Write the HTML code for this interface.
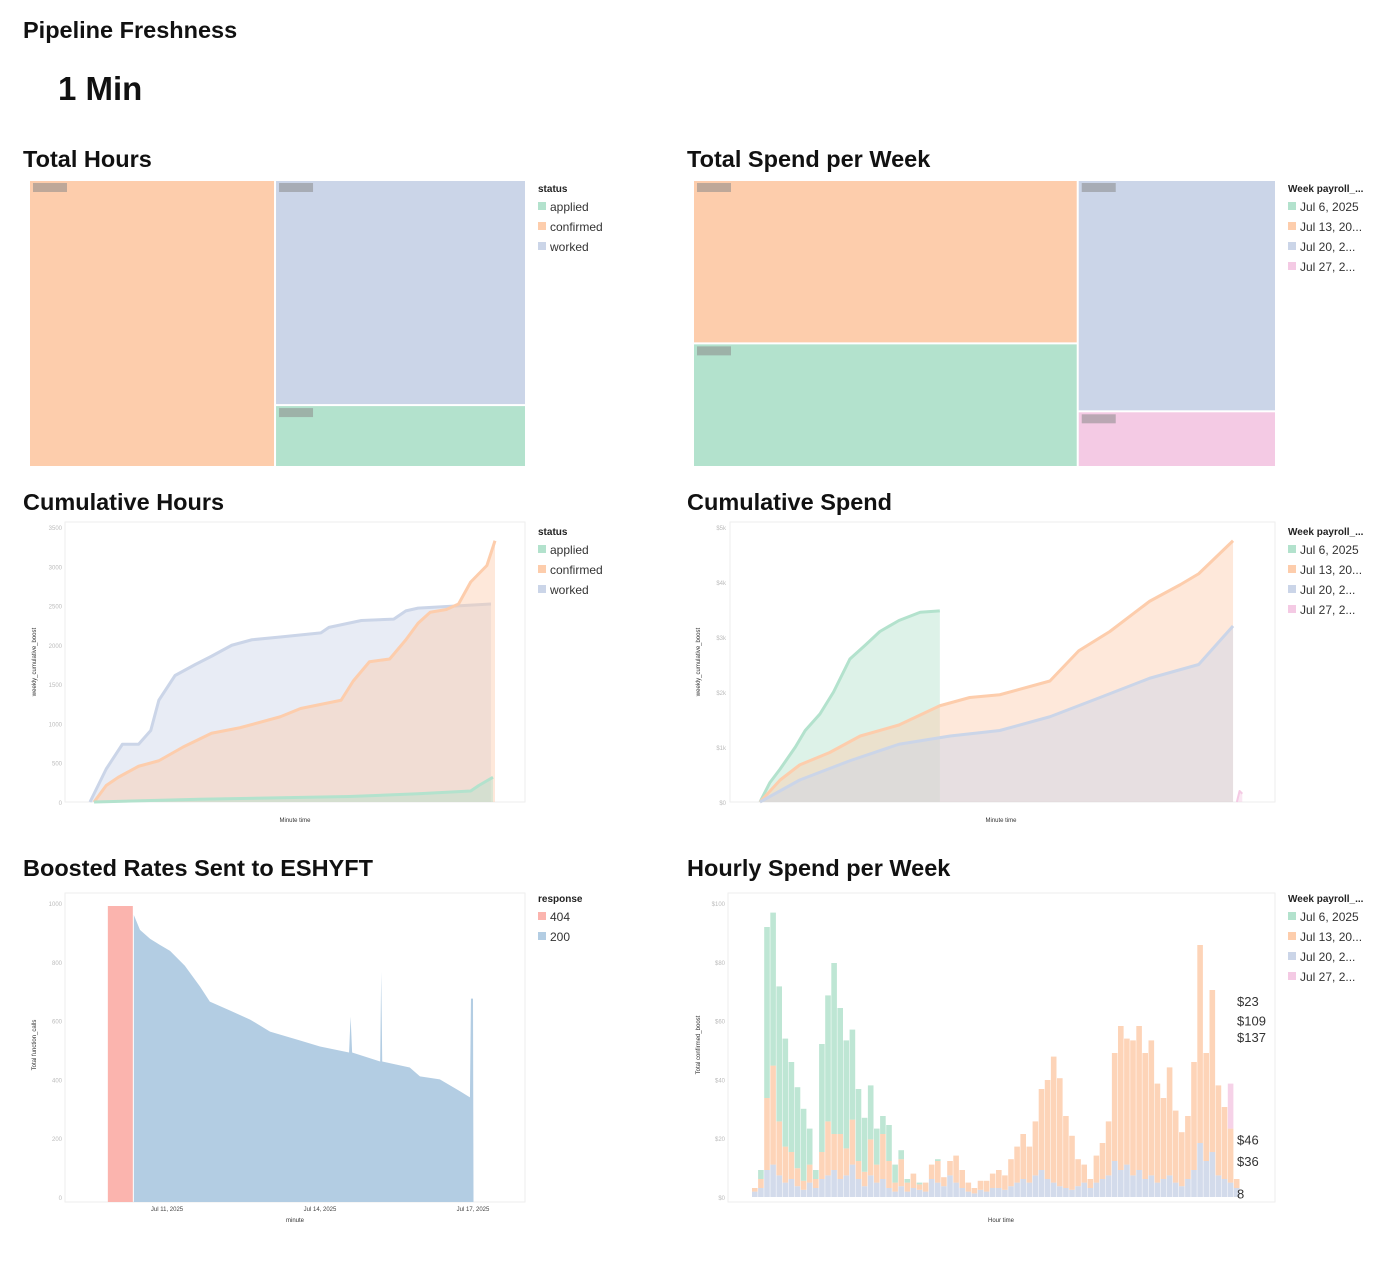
<!DOCTYPE html>
<html><head><meta charset="utf-8"><style>
html,body{margin:0;padding:0;background:#fff;width:1386px;height:1264px;overflow:hidden}
svg text{font-family:"Liberation Sans",sans-serif}
</style></head><body>
<svg id="root" width="1386" height="1264" xmlns="http://www.w3.org/2000/svg">
<text x="23" y="38" font-size="23.5" font-weight="600" fill="#111">Pipeline Freshness</text>
<text x="58" y="100" font-size="33" font-weight="700" fill="#111">1 Min</text>
<text x="23" y="167" font-size="23.5" font-weight="600" fill="#111">Total Hours</text>
<text x="687" y="167" font-size="23.5" font-weight="600" fill="#111">Total Spend per Week</text>
<text x="23" y="510" font-size="23.5" font-weight="600" fill="#111">Cumulative Hours</text>
<text x="687" y="510" font-size="23.5" font-weight="600" fill="#111">Cumulative Spend</text>
<text x="23" y="876" font-size="23.5" font-weight="600" fill="#111">Boosted Rates Sent to ESHYFT</text>
<text x="687" y="876" font-size="23.5" font-weight="600" fill="#111">Hourly Spend per Week</text>
<g id="g"></g>
</svg>
<script>
const NS="http://www.w3.org/2000/svg";
const G=document.getElementById('g');
function mk(tag,at,parent){const e=document.createElementNS(NS,tag);for(const k in at)e.setAttribute(k,at[k]);(parent||G).appendChild(e);return e;}
const C={green:'#b3e2cd',orange:'#fdcdac',blue:'#cbd5e8',pink:'#f4cae4',red:'#fbb4ae',lblue:'#b3cde3'};

// ---- Treemap data
const hoursCats=['confirmed','worked','applied'];
const hoursVals=[50,40,11];
const spendCats=['Jul 13, 2025','Jul 6, 2025','Jul 20, 2025','Jul 27, 2025'];
const spendVals=[37,28,27,6.5];

function treemap(x,y,w,h,vals,cols,names){
  const tot=vals.reduce((a,b)=>a+b,0);
  let groups=names.length===3?[[0],[1,2]]:[[0,1],[2,3]];
  let cx=x;
  groups.forEach((grp)=>{
    const s=grp.reduce((a,i)=>a+vals[i],0);
    const gw=w*s/tot;
    let cy=y;
    grp.forEach(i=>{
      const hh=h*vals[i]/s;
      const r=mk('rect',{x:cx,y:cy,width:gw-2,height:hh-2,fill:cols[i]});
      
      
      const t=mk('rect',{x:cx+3,y:cy+2,width:34,height:9,fill:'#8a8a8a',opacity:0.55});
      
      
      cy+=hh;
    });
    cx+=gw;
  });
}
treemap(30,181,497,287,hoursVals,[C.orange,C.blue,C.green],hoursCats);
treemap(694,181,583,287,spendVals,[C.orange,C.green,C.blue,C.pink],spendCats);

function legend(x,y,title,items,cols){
  const t=mk('text',{x:x,y:y,'font-size':10,'font-weight':600,fill:'#222'});t.textContent=title;
  
  
  items.forEach((it,i)=>{
    const r=mk('rect',{x:x,y:y+10+i*20,width:8,height:8,fill:cols[i]});
    
    
    const tx=mk('text',{x:x+12,y:y+19+i*20,'font-size':12,fill:'#333'});tx.textContent=it;
    
    
  });
}
const statusItems=['applied','confirmed','worked'];
const weekItems=['Jul 6, 2025','Jul 13, 20...','Jul 20, 2...','Jul 27, 2...'];
legend(538,192,'status',statusItems,[C.green,C.orange,C.blue]);
legend(1288,192,'Week payroll_...',weekItems,[C.green,C.orange,C.blue,C.pink]);
legend(538,535,'status',statusItems,[C.green,C.orange,C.blue]);
legend(1288,535,'Week payroll_...',weekItems,[C.green,C.orange,C.blue,C.pink]);
legend(538,902,'response',['404','200'],[C.red,C.lblue]);
legend(1288,902,'Week payroll_...',weekItems,[C.green,C.orange,C.blue,C.pink]);

function frame(x,y,w,h,name){const r=mk('rect',{x:x,y:y,width:w,height:h,fill:'none',stroke:'#eee'});
  
  }
function yticks(x,y0,y1,n,labels){for(let i=0;i<n;i++){const yy=y0-(y0-y1)*i/(n-1);const t=mk('text',{x:x,y:yy+3,'font-size':6,fill:'#bbb','text-anchor':'end'});t.textContent=labels[i]||'';
  
  }}
function axtitle(x,y,txt,rot){const t=mk('text',{x:x,y:y,'font-size':6,fill:'#333','text-anchor':'middle',transform:rot?`rotate(-90 ${x} ${y})`:''});t.textContent=txt;
  
  }

// ---- Cumulative Hours
const chT_worked=[0,4,8,12,15,17,21,26,30,35,40,47,57,59,67,75,78,81,99];
const chV_worked=[0,12,21,21,26,37,46,50,53,57,59,60,61.5,63.5,66,66.5,69.5,70.5,72];
const chT_conf=[1,4,7,12,17,23,30,37,47,52,62,65,69,74,78,81,84,88,91,94,98,100];
const chV_conf=[0,6,9,13,15,20,25,27,31,34,37,44,51,52,59,65,69,70,72,80,86,95];
const chT_app=[1,27,64,81,94,96,99.5];
const chV_app=[0,1,2,3,4,6,9];
function area(xs,ys,xf,yf,col,name,lw){
  let d='M'+xf(xs[0])+','+yf(0);
  xs.forEach((t,i)=>d+='L'+xf(t)+','+yf(ys[i]));
  d+='L'+xf(xs[xs.length-1])+','+yf(0)+'Z';
  const a=mk('path',{d:d,fill:col,'fill-opacity':0.45});
  
  
  let l='M'+xs.map((t,i)=>xf(t)+','+yf(ys[i])).join('L');
  const p=mk('path',{d:l,fill:'none',stroke:col,'stroke-width':lw||3,'stroke-linejoin':'round'});
  
  
}
frame(65,522,460,280,'cumulative-hours-plot');
const chX=t=>90+t*4.05, chY=v=>802-v*2.75;
area(chT_worked,chV_worked,chX,chY,C.blue,'worked');
area(chT_conf,chV_conf,chX,chY,C.orange,'confirmed');
area(chT_app,chV_app,chX,chY,C.green,'applied');
yticks(62,802,527,8,['0','500','1000','1500','2000','2500','3000','3500']);
axtitle(36,662,'weekly_cumulative_boost',true);
axtitle(295,822,'Minute time');

// ---- Cumulative Spend
const csT_g=[5.5,7.3,9.2,12,13.8,16.5,19,22,24.8,27.5,31,34.9,38.5];
const csV_g=[0,7,12,20,26,32,40,52,57,62,66,69,69.5];
const csT_o=[5.5,9.2,12.8,18.3,23.9,31,38.5,44,49.5,58.7,64,69.7,77,82.6,86,92.3];
const csV_o=[0,8,13.5,18,24,28,35,38,39,44,55,62,73,79,83,95];
const csT_b=[5.5,12.8,22,31,40.4,49.5,58.7,67.9,77,86,92.3];
const csV_b=[0,8,15,21,24,26,31,38,45,50,64];
const csT_p=[93,93.5,94];
const csV_p=[0,4,3];
frame(730,522,545,280,'cumulative-spend-plot');
const csX=t=>730+t*5.45, csY=v=>802-v*2.75;
area(csT_g,csV_g,csX,csY,C.green,'jul6');
area(csT_o,csV_o,csX,csY,C.orange,'jul13');
area(csT_b,csV_b,csX,csY,C.blue,'jul20');
area(csT_p,csV_p,csX,csY,C.pink,'jul27',2);
yticks(726,802,527,6,['$0','$1k','$2k','$3k','$4k','$5k']);
axtitle(700,662,'weekly_cumulative_boost',true);
axtitle(1001,822,'Minute time');

// ---- Boosted rates
const brT404=[1.84,2.33];
const brV404=[99,99];
const brT200=[2.35,2.47,2.67,2.86,3.06,3.35,3.65,3.84,4.24,4.63,5.02,5.61,6.0,6.57,6.6,6.63,7.18,7.2,7.22,7.76,7.96,8.35,8.75,8.94,8.96,9.0,9.01];
const brV200=[96,91,88,86,84,79,72,67,64,61,57,54,52,50,62,50,47,77,47,45,42,41,37,35,68,68,0];
frame(65,893,460,309,'boosted-rates-plot');
const brX=t=>14+t*51, brY=v=>1202-v*2.99;
(function(){
  let d='M'+brX(brT404[0])+','+brY(0)+'L'+brX(brT404[0])+','+brY(brV404[0])+'L'+brX(brT404[1])+','+brY(brV404[1])+'L'+brX(brT404[1])+','+brY(0)+'Z';
  const a=mk('path',{d:d,fill:C.red});
  
  
  let d2='M'+brX(brT200[0])+','+brY(0);
  brT200.forEach((t,i)=>d2+='L'+brX(t)+','+brY(brV200[i]));
  d2+='Z';
  const b=mk('path',{d:d2,fill:C.lblue});
  
  
})();
const brTicks=[3,6,9];
const brTickLabels=['Jul 11, 2025','Jul 14, 2025','Jul 17, 2025'];
brTicks.forEach((t,i)=>{const tx=mk('text',{x:brX(t),y:1211,'font-size':6,fill:'#444','text-anchor':'middle'});tx.textContent=brTickLabels[i];
  
  });
yticks(62,1197,903,6,['0','200','400','600','800','1000']);
axtitle(36,1045,'Total function_calls',true);
axtitle(295,1222,'minute');

// ---- Hourly spend stacked bars
const hsGreen=[0,5,95,85,75,60,50,45,40,20,5,60,70,95,70,60,50,40,30,30,20,10,20,10,5,2,0,1,0,0,1,0,0,0,0,0,0,0,0,0,0,0,0,0,0,0,0,0,0,0,0,0,0,0,0,0,0,0,0,0,0,0,0,0,0,0,0,0,0,0,0,0,0,0,0,0,0,0,0,0];
const hsOrange=[2,5,40,55,30,20,15,10,5,10,5,15,30,20,25,15,25,10,8,20,10,25,15,5,15,5,8,3,5,8,12,5,8,15,10,5,3,5,6,8,10,8,15,20,25,20,30,45,55,70,60,40,30,15,10,5,15,20,30,60,80,70,75,80,70,75,55,45,60,40,30,35,60,110,60,90,50,40,30,5];
const hsBlue=[3,5,15,18,12,8,10,6,4,8,5,10,12,15,10,12,18,10,6,12,8,10,5,3,6,3,5,4,3,10,8,6,12,8,5,3,2,4,3,5,5,4,6,8,10,8,12,15,10,8,6,5,4,6,8,5,8,10,12,20,15,18,12,15,10,12,8,10,12,8,6,10,15,30,20,25,12,10,8,5];
const hsPink=[0,0,0,0,0,0,0,0,0,0,0,0,0,0,0,0,0,0,0,0,0,0,0,0,0,0,0,0,0,0,0,0,0,0,0,0,0,0,0,0,0,0,0,0,0,0,0,0,0,0,0,0,0,0,0,0,0,0,0,0,0,0,0,0,0,0,0,0,0,0,0,0,0,0,0,0,0,0,25,0];
frame(728,893,547,309,'hourly-spend-plot');
const hsX=i=>752+i*6.1, hsY=v=>1197-v*1.8;
hsGreen.forEach((g,i)=>{
  let base=0;
  [[hsBlue[i],C.blue,'jul20'],[hsOrange[i],C.orange,'jul13'],[g,C.green,'jul6'],[hsPink[i],C.pink,'jul27']].forEach(([v,c,n])=>{
    if(v<=0)return;
    const r=mk('rect',{x:hsX(i),y:hsY(base+v),width:5.6,height:hsY(base)-hsY(base+v),fill:c,opacity:0.85});
    
    
    base+=v;
  });
});
const hsLabels=['$23','$109','$137','$46','$36','8'];
const hsLabelVals=[109,98,89,32,20,2];
hsLabels.forEach((l,i)=>{const t=mk('text',{x:1237,y:hsY(hsLabelVals[i])+5,'font-size':13,fill:'#333'});t.textContent=l;
  
  });
yticks(725,1197,903,6,['$0','$20','$40','$60','$80','$100']);
axtitle(700,1045,'Total confirmed_boost',true);
axtitle(1001,1222,'Hour time');
</script>
</body></html>
